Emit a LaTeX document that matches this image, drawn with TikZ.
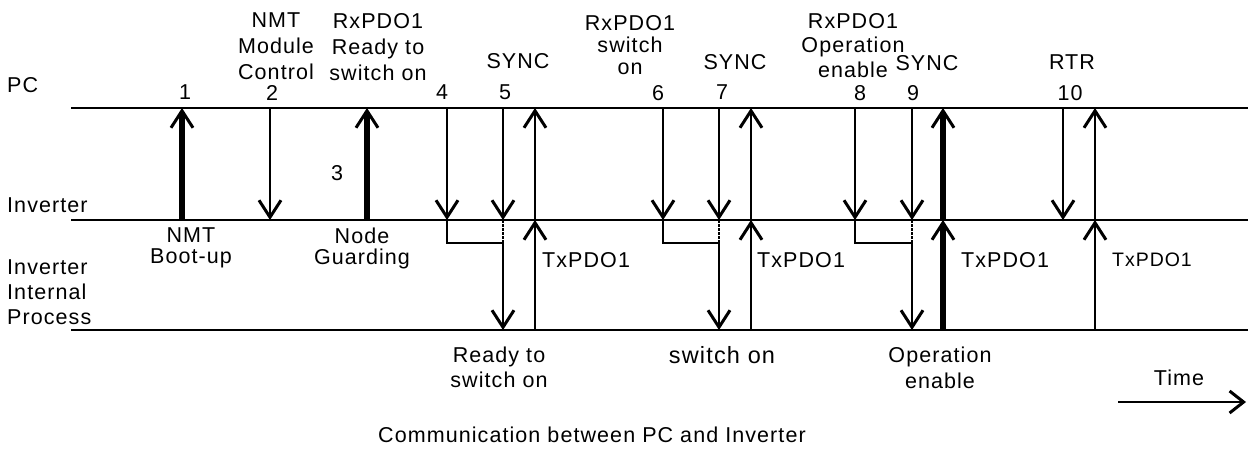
\documentclass[tikz,border=0pt]{standalone}
\usepackage{fontspec}
\setmainfont{Liberation Sans}[LetterSpace=5]
\usetikzlibrary{arrows.meta}
\begin{document}
\begin{tikzpicture}[x=1pt,y=-1pt,
  hline/.style={line width=2.3pt},
  tip/.style={-{Straight Barb[length=17pt,width=22pt,line width=3pt]}},
  thinarr/.style={line width=2.9pt,tip},
  thickarr/.style={line width=5.4pt,tip},
  jog/.style={line width=2pt},
  dotjog/.style={line width=2pt,dash pattern=on 2.5pt off 1.5pt},
  txt/.style={font=\fontsize{21.5}{26}\selectfont,inner sep=0pt,align=center,anchor=north},
  ltxt/.style={txt,align=left,anchor=north west}]
\useasboundingbox (0,0) rectangle (1248,448);

% lane coordinates
\coordinate (pcL) at (71,108);  \coordinate (pcR) at (1248,108);
\coordinate (invL) at (71,220); \coordinate (invR) at (1248,220);
\coordinate (ipL) at (71,330);  \coordinate (ipR) at (1248,330);
\draw[hline] (pcL) -- (pcR);
\draw[hline] (invL) -- (invR);
\draw[hline] (ipL) -- (ipR);

% column coordinates: top / middle / bottom
\foreach \n/\x in {a1/182,a2/270,a3/367,a4/447,a5/503,u5/535,a6/663,a7/719,u7/751,a8/855,a9/912,u9/943,a10/1063,u10/1095}{
  \coordinate (t\n) at (\x,108);
  \coordinate (m\n) at (\x,220);
  \coordinate (b\n) at (\x,330);
}
\coordinate (j4) at (447,243); \coordinate (k5) at (503,243);
\coordinate (j6) at (663,243); \coordinate (k7) at (719,243);
\coordinate (j8) at (855,243); \coordinate (k9) at (912,243);

% messages between PC and inverter
\draw[thickarr] (ma1) -- (ta1);
\draw[thinarr] (ta2) -- (ma2);
\draw[thickarr] (ma3) -- (ta3);
\draw[thinarr] (ta4) -- (ma4);
\draw[thinarr] (ta5) -- (ma5);
\draw[thinarr] (ta6) -- (ma6);
\draw[thinarr] (ta7) -- (ma7);
\draw[thinarr] (ta8) -- (ma8);
\draw[thinarr] (ta9) -- (ma9);
\draw[thinarr] (ta10) -- (ma10);

% responses from internal process up to PC
\draw[thinarr] (bu5) -- (mu5);
\draw[thinarr] (mu5) -- (tu5);
\draw[thinarr] (bu7) -- (mu7);
\draw[thinarr] (mu7) -- (tu7);
\draw[thickarr] (bu9) -- (mu9);
\draw[thickarr] (mu9) -- (tu9);
\draw[thinarr] (bu10) -- (mu10);
\draw[thinarr] (mu10) -- (tu10);

% internal processing jogs
\draw[jog] (ma4) -- (j4) -- (k5);
\draw[dotjog] (ma5) -- (k5);
\draw[thinarr] (k5) -- (ba5);
\draw[jog] (ma6) -- (j6) -- (k7);
\draw[dotjog] (ma7) -- (k7);
\draw[thinarr] (k7) -- (ba7);
\draw[jog] (ma8) -- (j8) -- (k9);
\draw[dotjog] (ma9) -- (k9);
\draw[thinarr] (k9) -- (ba9);

% lane labels
\node[ltxt] (lpc) at (7,77) {PC};
\node[ltxt] (linv) at (7,198) {Inverter};
\node[ltxt,font=\fontsize{21.5}{25}\selectfont] (lip) at (7,260) {Inverter\\Internal\\Process};

% numbers
\node[txt] (n1) at (185,85) {1};
\node[txt] (n2) at (272,85) {2};
\node[txt] (n3) at (337,165) {3};
\node[txt] (n4) at (442,85) {4};
\node[txt] (n5) at (505,85) {5};
\node[txt] (n6) at (658,85) {6};
\node[txt] (n7) at (722,85) {7};
\node[txt] (n8) at (860,85) {8};
\node[txt] (n9) at (913,85) {9};
\node[txt] (n10) at (1070,85) {10};

% header labels
\node[txt] (h2) at (276,13) {NMT\\Module\\Control};
\node[txt] (h4) at (378,13) {RxPDO1\\Ready to\\switch on};
\node[txt] (s5) at (518,53) {SYNC};
\node[txt,font=\fontsize{21.5}{22}\selectfont] (h6) at (630,15) {RxPDO1\\switch\\on};
\node[txt] (s7) at (735,54) {SYNC};
\node[txt,font=\fontsize{21.5}{24.5}\selectfont] (h8) at (853,13) {RxPDO1\\Operation\\enable};
\node[txt] (s9) at (927,55) {SYNC};
\node[txt] (r10) at (1072,55) {RTR};

% labels below inverter line
\node[txt,font=\fontsize{21.5}{21}\selectfont] (boot) at (191,228) {NMT\\Boot-up};
\node[txt,font=\fontsize{21.5}{21}\selectfont] (guard) at (362,228) {Node\\Guarding};
\node[ltxt] (tx5) at (542,252) {TxPDO1};
\node[ltxt] (tx7) at (757,252) {TxPDO1};
\node[ltxt] (tx9) at (961,252) {TxPDO1};
\node[ltxt,font=\fontsize{19.5}{22}\selectfont] (tx10) at (1112,253) {TxPDO1};

% states
\node[txt,font=\fontsize{21.5}{25}\selectfont] (st1) at (499,347) {Ready to\\switch on};
\node[txt,font=\fontsize{23.5}{26}\selectfont] (st2) at (722,346) {switch on};
\node[txt,font=\fontsize{21.5}{25.5}\selectfont] (st3) at (940,347) {Operation\\enable};

% time arrow
\node[txt] (time) at (1179,370) {Time};
\coordinate (tA) at (1118,402); \coordinate (tB) at (1246,402);
\draw[line width=2.8pt,-{Straight Barb[length=14pt,width=22pt,line width=3pt]}] (tA) -- (tB);

% caption
\node[txt] (cap) at (592,427) {Communication between PC and Inverter};
\end{tikzpicture}
\end{document}
